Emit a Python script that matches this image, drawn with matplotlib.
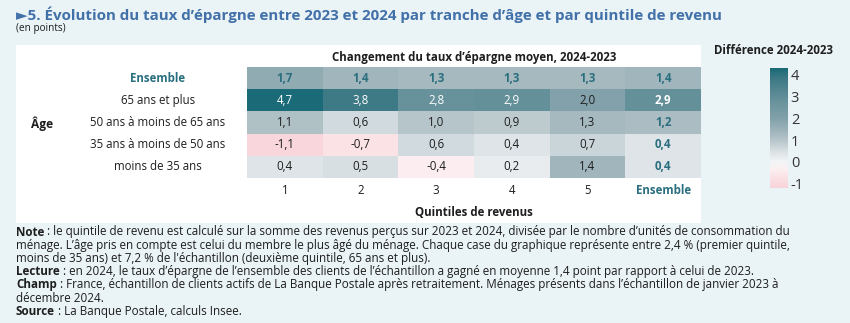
import matplotlib
matplotlib.use("Agg")
import matplotlib.pyplot as plt
import numpy as np
from matplotlib.colors import LinearSegmentedColormap, Normalize
from matplotlib.patches import Rectangle
from matplotlib.text import Annotation

plt.rcParams['font.family'] = ['Open Sans', 'DejaVu Sans']

# ---- data ----
row_labels = ["Ensemble", "65 ans et plus", "50 ans à moins de 65 ans",
              "35 ans à moins de 50 ans", "moins de 35 ans"]
col_labels = ["1", "2", "3", "4", "5", "Ensemble"]
val_ensemble = [1.7, 1.4, 1.3, 1.3, 1.3, 1.4]
val_65plus = [4.7, 3.8, 2.8, 2.9, 2.0, 2.9]
val_50_65 = [1.1, 0.6, 1.0, 0.9, 1.3, 1.2]
val_35_50 = [-1.1, -0.7, 0.6, 0.4, 0.7, 0.4]
val_moins35 = [0.4, 0.5, -0.4, 0.2, 1.4, 0.4]
cbar_ticks = [-1, 0, 1, 2, 3, 4]

values = np.array([val_ensemble, val_65plus, val_50_65, val_35_50, val_moins35])

# ---- style ----
W, H = 850, 323
BG = "#EAF3F6"
TITLE_C = "#4270A8"
TEAL_T = "#2A6F7F"
DARK = "#1E1E1E"
FS = 8.3

vmin, vmax = -1.2, 4.3
nodes = [(-1.2, "#F8D4D9"), (-0.7, "#FAE2E5"), (-0.4, "#FCEEF0"), (0.0, "#F3F5F6"),
         (0.4, "#DEE4E7"), (1.0, "#B6C5CA"), (1.4, "#A0B5BC"), (2.0, "#82A1AA"),
         (2.9, "#64909A"), (3.8, "#3E7A86"), (4.3, "#1A6A77")]
cmap = LinearSegmentedColormap.from_list(
    "c", [((v - vmin) / (vmax - vmin), c) for v, c in nodes])
norm = Normalize(vmin=vmin, vmax=vmax)

fig = plt.figure(figsize=(W / 100, H / 100), dpi=100)
fig.patch.set_facecolor(BG)

def fx(px):
    return px / W

def fy(py):
    return 1 - py / H

# white panel
fig.patches.append(Rectangle((fx(16), fy(223)), fx(701) - fx(16), fy(45) - fy(223),
                             transform=fig.transFigure, facecolor="white",
                             edgecolor="none", zorder=-5))

fig.text(fx(16), fy(15), "►5. Évolution du taux d’épargne entre 2023 et 2024 par tranche d’âge et par quintile de revenu",
         fontsize=10.9, fontweight="bold", color=TITLE_C, va="center", ha="left")
fig.text(fx(16), fy(29), "(en points)", fontsize=7.2, color=DARK, va="center", ha="left")

# heatmap axes
ax = fig.add_axes([fx(247), fy(178), fx(701) - fx(247), fy(67) - fy(178)])
ax.set_zorder(2)
nr, nc = values.shape
ax.pcolormesh(np.arange(nc + 1), np.arange(nr + 1), values, cmap=cmap, norm=norm)
ax.set_xlim(0, nc)
ax.set_ylim(nr, 0)
ax.set_axis_off()

for i in range(nr):
    for j in range(nc):
        v = values[i, j]
        txt = f"{v:.1f}".replace(".", ",")
        is_ens = (i == 0) or (j == nc - 1)
        if v >= 2.5:
            col = "white"
        elif is_ens:
            col = TEAL_T
        else:
            col = DARK
        ax.text(j + 0.5, i + 0.5, txt, ha="center", va="center", fontsize=FS,
                color=col, fontweight="bold" if is_ens else "normal")

# row labels (centered at x=158 px)
for i, lab in enumerate(row_labels):
    fig.text(fx(158), fy(67 + (i + 0.5) * 22.2), lab, ha="center", va="center",
             fontsize=FS, color=TEAL_T if i == 0 else DARK,
             fontweight="bold" if i == 0 else "normal")
# column labels
for j, lab in enumerate(col_labels):
    ax.text(j + 0.5, nr + 0.55, lab, ha="center", va="center", fontsize=FS,
            color=TEAL_T if j == nc - 1 else DARK,
            fontweight="bold" if j == nc - 1 else "normal")

fig.text(fx(42), fy(124), "Âge", fontsize=8.6, fontweight="bold", color=DARK,
         ha="center", va="center")
fig.text(fx(474), fy(57), "Changement du taux d’épargne moyen, 2024-2023", fontsize=FS,
         fontweight="bold", color=DARK, ha="center", va="center")
fig.text(fx(474), fy(213), "Quintiles de revenus", fontsize=FS,
         fontweight="bold", color=DARK, ha="center", va="center")

# colorbar
cax = fig.add_axes([fx(770), fy(188), fx(788) - fx(770), fy(68) - fy(188)])
grad = np.linspace(vmin, vmax, 256).reshape(-1, 1)
cax.imshow(grad, aspect="auto", origin="lower", cmap=cmap, norm=norm,
           extent=[0, 1, vmin, vmax])
cax.set_xticks([])
cax.yaxis.tick_right()
cax.set_yticks(cbar_ticks)
cax.set_yticklabels([str(t) for t in cbar_ticks], fontsize=10.5, color="#333333")
cax.tick_params(axis="y", length=0, pad=2)
for s in cax.spines.values():
    s.set_visible(False)
fig.text(fx(773), fy(50), "Différence 2024-2023", fontsize=FS, fontweight="bold",
         color=DARK, ha="center", va="center")

# notes
notes = [
    ("Note", " : le quintile de revenu est calculé sur la somme des revenus perçus sur 2023 et 2024, divisée par le nombre d’unités de consommation du"),
    ("", "ménage. L’âge pris en compte est celui du membre le plus âgé du ménage. Chaque case du graphique représente entre 2,4 % (premier quintile,"),
    ("", "moins de 35 ans) et 7,2 % de l'échantillon (deuxième quintile, 65 ans et plus)."),
    ("Lecture", " : en 2024, le taux d’épargne de l’ensemble des clients de l’échantillon a gagné en moyenne 1,4 point par rapport à celui de 2023."),
    ("Champ", " : France, échantillon de clients actifs de La Banque Postale après retraitement. Ménages présents dans l’échantillon de janvier 2023 à"),
    ("", "décembre 2024."),
    ("Source", " : La Banque Postale, calculs Insee."),
]
NFS = 8.35
y0 = 232
step = 13.2
for k, (b, r) in enumerate(notes):
    y = fy(y0 + k * step)
    if b:
        t = fig.text(fx(16), y, b, fontsize=NFS, fontweight="bold", color=DARK,
                     ha="left", va="center")
        a = Annotation(r, xy=(1, 0.5), xycoords=t, ha="left", va="center",
                       fontsize=NFS, color=DARK, annotation_clip=False)
        fig.add_artist(a)
    else:
        fig.text(fx(16), y, r, fontsize=NFS, color=DARK, ha="left", va="center")

fig.savefig("out.png", dpi=100, facecolor=BG)
